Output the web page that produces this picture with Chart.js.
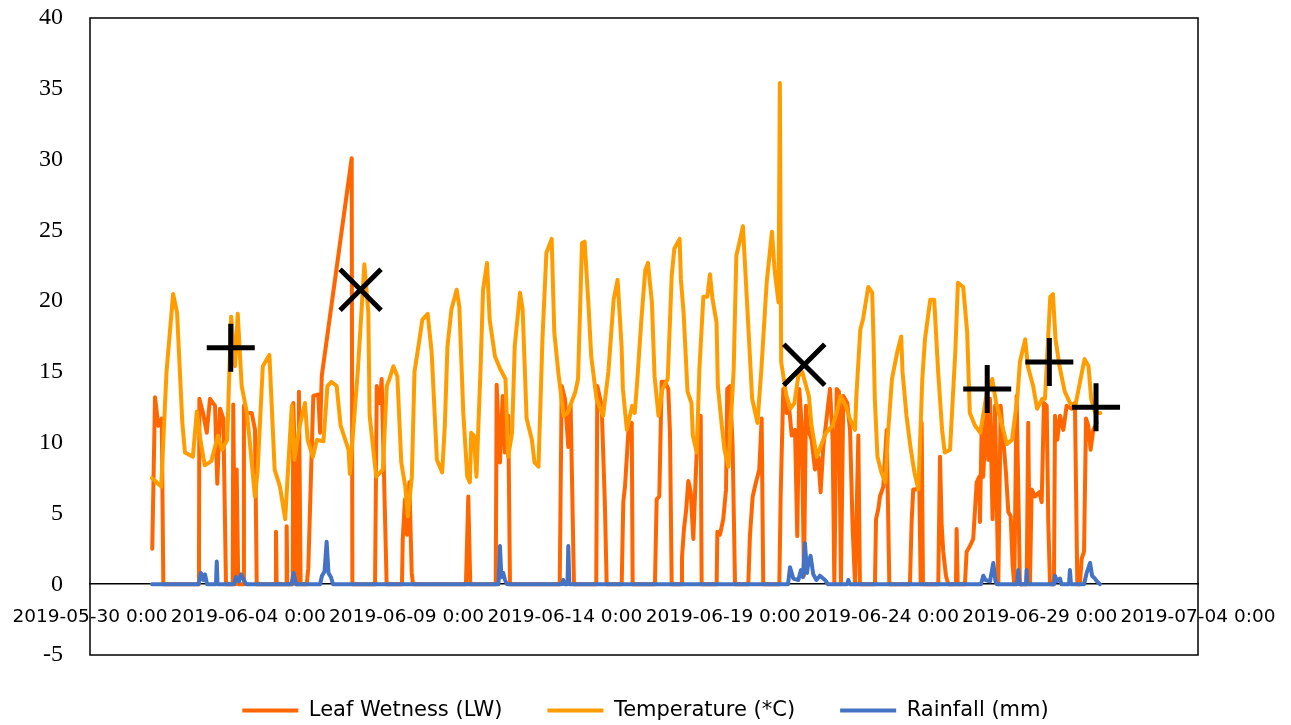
<!DOCTYPE html>
<html>
<head>
<meta charset="utf-8">
<script src="https://cdn.jsdelivr.net/npm/chart.js@4.4.1/dist/chart.umd.min.js"></script>
<style>
  html, body { margin: 0; padding: 0; background: #fff; }
  #wrap { width: 1291px; height: 725px; }
</style>
</head>
<body>
<div id="wrap"><canvas id="sensorChart" width="1291" height="725"></canvas></div>
<script>
// x values are hours since 2019-05-30 0:00
const xTickLabels = ['2019-05-30 0:00', '2019-06-04 0:00', '2019-06-09 0:00', '2019-06-14 0:00',
  '2019-06-19 0:00', '2019-06-24 0:00', '2019-06-29 0:00', '2019-07-04 0:00'];

const tempHours = [47, 54, 58, 63, 66, 70, 72, 78, 81, 84, 87, 92, 97, 100, 104, 107, 110, 112, 115, 119,
  121, 125, 127, 131, 136, 140, 144, 148, 150, 153, 155, 159, 163, 165, 169, 172, 177, 180, 183, 187,
  190, 196, 197, 203, 208, 211, 212, 217, 222, 225, 227, 230, 233, 236, 239, 241, 244, 246, 249, 252,
  256, 259, 262, 263, 267, 269, 271, 274, 278, 280, 283, 286, 288, 289, 291, 293, 296, 298, 301, 303,
  307, 311, 315, 317, 320, 322, 326, 328, 331, 335, 337, 340, 343, 346, 350, 352, 355, 359, 362, 368,
  370, 373, 375, 378, 380, 384, 389, 393, 397, 400, 403, 404, 407, 411, 413, 415, 418, 421, 423, 426,
  428, 431, 434, 438, 441, 443, 447, 448, 450, 453, 456, 457, 460, 462, 465, 468, 470, 472, 475, 476,
  479, 481, 484, 488, 490, 493, 495, 498, 502, 506, 509, 513, 517, 519, 522, 523, 524, 528, 531, 534,
  537, 540, 542, 545, 547, 551, 555, 558, 563, 566, 569, 573, 576, 580, 581, 584, 586, 590, 593, 594,
  595, 597, 600, 603, 605, 608, 612, 615, 616, 619, 622, 625, 628, 631, 633, 637, 640, 643, 646, 648,
  652, 656, 658, 662, 665, 667, 671, 675, 680, 684, 687, 691, 695, 699, 703, 705, 709, 711, 715, 718,
  722, 724, 728, 730, 732, 735, 739, 743, 747, 751, 754, 757, 759, 762, 766];
const tempValues = [7.5, 6.9, 15.0, 20.5, 19.2, 11.4, 9.3, 9.0, 12.2, 10.0, 8.4, 8.7, 10.5, 9.5, 10.2, 18.9, 15.4, 19.1, 14.0, 12.1,
  10.2, 6.2, 7.9, 15.4, 16.2, 8.1, 6.9, 4.6, 7.9, 12.6, 8.8, 11.2, 12.8, 10.2, 9.0, 10.2, 10.1, 14.0, 14.3, 14.0,
  11.2, 9.5, 7.8, 15.0, 22.6, 19.2, 11.9, 7.6, 8.1, 14.0, 14.5, 15.4, 14.7, 8.6, 6.9, 4.8, 7.6, 15.0, 16.8, 18.7,
  19.1, 16.4, 10.7, 8.8, 7.9, 11.2, 16.8, 19.4, 20.8, 19.6, 12.1, 7.6, 7.2, 10.7, 10.5, 7.6, 15.0, 20.8, 22.7, 18.7,
  16.1, 15.2, 14.5, 9.0, 10.7, 16.8, 20.6, 19.4, 11.7, 10.2, 8.6, 8.3, 17.3, 23.4, 24.4, 17.8, 15.0, 11.9, 12.1, 13.6,
  14.5, 24.1, 24.2, 19.6, 16.1, 13.1, 11.9, 15.0, 20.1, 21.5, 16.8, 13.8, 10.9, 12.6, 12.1, 14.5, 18.7, 22.2, 22.7, 19.9,
  14.7, 11.9, 13.8, 14.5, 21.8, 23.7, 24.4, 21.5, 19.2, 13.6, 12.8, 10.5, 9.3, 15.2, 20.3, 20.3, 21.9, 20.1, 18.5, 14.0,
  11.2, 9.5, 8.3, 15.2, 23.2, 24.4, 25.3, 20.1, 13.1, 11.4, 15.2, 21.3, 24.9, 22.2, 19.9, 35.4, 15.7, 13.3, 12.4, 12.8,
  14.7, 15.0, 14.3, 13.3, 11.2, 9.0, 10.0, 10.7, 11.2, 12.1, 13.3, 12.6, 11.7, 10.9, 13.3, 18.0, 18.7, 21.0, 20.6, 17.3,
  13.1, 9.0, 7.9, 7.2, 10.7, 14.5, 16.4, 17.5, 15.0, 11.9, 9.7, 7.9, 6.7, 14.5, 17.3, 20.1, 20.1, 15.0, 10.9, 9.3,
  9.5, 16.4, 21.3, 21.0, 17.8, 12.1, 11.2, 10.7, 13.6, 14.5, 12.8, 11.4, 9.9, 10.2, 13.1, 15.7, 17.3, 15.4, 14.0, 12.4,
  13.1, 13.1, 20.3, 20.5, 17.3, 15.4, 13.6, 12.8, 12.6, 14.5, 15.9, 15.4, 13.1, 12.1, 12.1];

const lwHours = [47.2, 49.3, 51.8, 54.4, 55.6, 82.6, 82.9, 85.7, 88.5, 91.0, 94.8, 96.5, 98.6, 101.1, 103.1,
  108.2, 108.6, 109.9, 111.2, 112.4, 116.2, 116.7, 118.8, 122.6, 125.1, 126.4, 140.5, 141.0, 141.5, 148.6,
  149.1, 149.6, 153.7, 154.1, 155.4, 156.7, 157.9, 158.4, 159.7, 164.3, 165.5, 168.1, 169.3, 173.1, 174.4,
  175.7, 198.4, 198.9, 216.1, 217.4, 219.8, 221.1, 222.1, 224.9, 236.5, 237.1, 238.8, 240.3, 242.1, 243.9,
  244.9, 285.0, 286.8, 288.3, 307.6, 308.3, 310.8, 312.9, 314.6, 317.1, 318.4, 356.1, 357.6, 360.1, 362.6,
  364.4, 366.9, 383.8, 384.6, 387.9, 390.4, 391.7, 403.1, 404.3, 405.6, 408.1, 409.4, 410.7, 411.4, 428.3,
  429.6, 431.6, 433.4, 435.9, 438.4, 439.7, 441.0, 448.6, 448.8, 450.3, 451.8, 453.6, 455.4, 457.4, 459.4,
  461.2, 463.0, 463.7, 475.1, 475.6, 477.6, 480.1, 482.2, 483.1, 485.2, 487.2, 489.0, 499.1, 500.3, 502.4,
  504.9, 507.4, 509.2, 510.4, 522.6, 523.6, 525.6, 528.2, 530.1, 532.0, 534.5, 536.2, 537.7, 539.5, 541.3,
  542.8, 544.5, 547.1, 549.6, 552.1, 553.9, 555.9, 558.9, 561.0, 563.0, 564.3, 566.1, 567.8, 569.3, 571.1,
  574.1, 576.2, 578.2, 580.0, 582.5, 583.7, 595.1, 595.9, 597.6, 598.9, 601.4, 604.0, 606.0, 621.6, 622.9,
  624.1, 626.2, 628.7, 629.8, 630.5, 631.5, 643.1, 644.4, 645.7, 646.9, 648.9, 650.7, 656.5, 657.0, 657.8,
  663.3, 664.6, 667.1, 669.6, 672.2, 674.2, 674.7, 676.0, 677.2, 679.8, 681.0, 682.3, 684.3, 686.1, 688.6,
  690.4, 692.4, 694.4, 696.2, 698.0, 699.5, 700.7, 702.5, 705.0, 710.1, 711.3, 712.6, 713.9, 716.4, 719.7,
  721.5, 723.2, 725.3, 726.5, 727.8, 730.8, 731.6, 733.3, 735.4, 737.9, 740.4, 744.2, 746.7, 748.5, 750.5,
  751.8, 753.6, 755.1, 756.8, 758.6, 760.6, 763.2];
const lwValues = [2.5, 13.2, 11.2, 11.7, 0, 0, 13.1, 12.1, 10.7, 13.1, 12.6, 7.1, 12.4, 11.7, 0,
  0, 12.7, 0, 8.1, 0, 0, 12.6, 12.1, 12.1, 10.9, 0, 0, 3.7, 0, 0,
  4.1, 0, 0, 12.8, 8.8, 0, 0, 13.6, 0, 0, 1.1, 9.5, 13.3, 13.4, 10.7,
  14.7, 30.1, 0, 0, 14.0, 12.8, 14.5, 10.7, 0, 0, 3.2, 6.0, 3.5, 7.2, 0.8,
  0, 0, 6.2, 0, 0, 14.1, 8.6, 13.3, 9.3, 11.9, 0, 0, 14.0, 13.1, 9.7,
  12.6, 0, 0, 14.0, 12.6, 5.5, 0, 0, 5.8, 6.9, 10.7, 11.2, 11.4, 0, 0,
  6.0, 6.2, 14.3, 14.3, 13.8, 10.7, 0, 0, 1.9, 3.9, 5.1, 7.3, 6.5, 3.2, 8.1,
  11.7, 11.9, 0, 0, 3.7, 3.5, 4.6, 6.7, 13.8, 14.0, 9.7, 0, 0, 3.4, 6.2,
  7.2, 8.1, 11.7, 0, 0, 6.2, 13.8, 12.1, 12.4, 10.5, 10.9, 3.4, 13.8, 11.4, 0.6,
  12.6, 10.9, 10.2, 8.1, 9.0, 6.5, 9.7, 12.1, 13.8, 10.2, 0, 13.8, 13.6, 0, 13.3,
  12.8, 10.9, 3.9, 0, 10.5, 0, 0, 4.6, 5.3, 6.2, 6.9, 10.9, 0, 0, 4.4,
  6.7, 6.7, 6.9, 0, 11.4, 0, 0, 9.0, 4.1, 2.3, 0.6, 0, 0, 3.9, 0,
  0, 2.3, 2.7, 3.2, 7.2, 7.6, 4.4, 11.2, 7.6, 13.1, 8.8, 13.1, 4.6, 12.6, 0,
  12.6, 10.2, 7.9, 5.1, 4.8, 1.3, 0, 13.3, 0, 0, 11.4, 0, 6.7, 6.2, 6.5,
  5.8, 12.8, 12.6, 4.4, 0, 0, 11.9, 10.2, 11.9, 10.9, 12.6, 12.4, 12.8, 0, 0,
  1.8, 2.3, 11.7, 11.2, 9.5, 10.9, 11.4];

const rainHours = [47, 82.3, 84.1, 86.0, 87.2, 88.7, 95.5, 96.1, 96.7, 109.2, 110.7, 113.0, 114.5, 116.7, 118.3,
  152.8, 154.3, 156.2, 174.4, 175.9, 177.8, 179.4, 180.8, 182.7, 184.2, 309.7, 310.8, 311.9, 313.3, 314.6,
  316.1, 357.8, 358.8, 359.7, 362.0, 362.6, 363.4, 529.2, 530.7, 533.2, 537.0, 539.0, 540.5, 542.0, 543.6,
  544.5, 546.3, 548.3, 550.7, 553.4, 557.2, 559.5, 573.9, 574.9, 576.2, 675.5, 677.2, 678.9, 682.3, 684.8,
  686.5, 687.6, 702.8, 703.7, 704.8, 709.6, 710.1, 710.7, 730.8, 731.6, 733.1, 735.4, 736.5, 742.2, 742.9,
  743.7, 753.6, 755.6, 758.2, 759.7, 761.9, 763.4, 765.7];
const rainValues = [0, 0, 0.8, 0.3, 0.7, 0, 0, 1.6, 0, 0, 0.5, 0.2, 0.7, 0.3, 0,
  0, 0.8, 0, 0, 0.6, 0.9, 3.0, 0.8, 0.5, 0, 0, 2.7, 0.5, 0.8, 0.3,
  0, 0, 0.3, 0, 0, 2.7, 0, 0, 1.2, 0.4, 0.3, 1.0, 0.5, 2.9, 0.8,
  1.5, 2.0, 0.7, 0.3, 0.6, 0.3, 0, 0, 0.3, 0, 0, 0.6, 0.3, 0.2, 1.5,
  0.2, 0, 0, 1.0, 0, 0, 1.0, 0, 0, 0.6, 0.2, 0.4, 0, 0, 1.0,
  0, 0, 0.8, 1.5, 0.6, 0.4, 0.2, 0];

// black annotation marks
const markHours = [106.7, 205.1, 541.5, 680.2, 727.3, 762.7];
const markValues = [16.7, 20.8, 15.5, 13.8, 15.7, 12.5];
const markStyles = ['cross', 'crossRot', 'crossRot', 'cross', 'cross', 'cross'];

const toPoints = (xs, ys) => xs.map((x, i) => ({ x: x, y: ys[i] }));

const lineStyle = {
  borderWidth: 4,
  pointRadius: 0,
  tension: 0,
  fill: false,
  borderJoinStyle: 'round',
  borderCapStyle: 'round'
};

// outline round the plot area
const plotFrame = {
  id: 'plotFrame',
  beforeDatasetsDraw(chart) {
    const { ctx, chartArea: a } = chart;
    ctx.save();
    ctx.strokeStyle = '#000';
    ctx.lineWidth = 1.5;
    ctx.strokeRect(a.left, a.top, a.right - a.left, a.bottom - a.top);
    ctx.restore();
  }
};

// keep tick-label overhang from moving the plot edges
const noPadding = (scale) => {
  scale.paddingLeft = 0;
  scale.paddingRight = 0;
  scale.paddingTop = 0;
  scale.paddingBottom = 0;
};

const ctx = document.getElementById('sensorChart').getContext('2d');
new Chart(ctx, {
  type: 'line',
  data: {
    datasets: [
      Object.assign({ label: 'Leaf Wetness (LW)', data: toPoints(lwHours, lwValues),
        borderColor: '#FF6600', backgroundColor: '#FF6600', order: 3 }, lineStyle),
      Object.assign({ label: 'Temperature (*C)', data: toPoints(tempHours, tempValues),
        borderColor: '#FF9C00', backgroundColor: '#FF9C00', order: 2 }, lineStyle),
      Object.assign({ label: 'Rainfall (mm)', data: toPoints(rainHours, rainValues),
        borderColor: '#4472C4', backgroundColor: '#4472C4', order: 1 }, lineStyle),
      {
        label: 'marks',
        data: toPoints(markHours, markValues),
        showLine: false,
        pointStyle: markStyles,
        pointRadius: markStyles.map(s => s === 'cross' ? 24 : 29),
        pointBorderWidth: 5,
        pointBorderColor: '#000',
        pointBackgroundColor: '#000',
        order: 0
      }
    ]
  },
  options: {
    responsive: false,
    animation: false,
    events: [],
    layout: { autoPadding: false, padding: { top: 18, left: 0, right: 0, bottom: 0 } },
    scales: {
      x: {
        type: 'linear',
        position: { y: 0 },
        min: 0,
        max: 840,
        grid: { display: false, drawTicks: false },
        border: { display: true, color: '#000', width: 1.5 },
        ticks: {
          stepSize: 120,
          autoSkip: false,
          maxRotation: 0,
          minRotation: 0,
          padding: 22,
          color: '#000',
          font: { family: 'DejaVu Sans', size: 18.5 },
          callback: (value) => xTickLabels[Math.round(value / 120)]
        },
        afterFit: noPadding
      },
      y: {
        position: 'left',
        min: -5,
        max: 40,
        grid: { display: false, drawTicks: false },
        border: { display: false },
        ticks: {
          stepSize: 5,
          padding: 27,
          color: '#000',
          font: { family: 'Liberation Serif', size: 24 }
        },
        afterFit: (scale) => { noPadding(scale); scale.width = 90; }
      },
      yRight: {
        position: 'right',
        min: -5,
        max: 40,
        grid: { display: false },
        border: { display: false },
        ticks: { display: false },
        afterFit: (scale) => { noPadding(scale); scale.width = 93; }
      }
    },
    plugins: {
      tooltip: { enabled: false },
      legend: {
        position: 'bottom',
        maxHeight: 70,
        labels: {
          boxWidth: 56,
          boxHeight: 4,
          padding: 45,
          color: '#000',
          font: { family: 'DejaVu Sans', size: 21 },
          filter: (item) => item.datasetIndex < 3,
          sort: (a, b) => a.datasetIndex - b.datasetIndex,
          generateLabels(chart) {
            const items = Chart.defaults.plugins.legend.labels.generateLabels(chart);
            items.forEach(it => {
              it.lineWidth = 0;
              it.fillStyle = chart.data.datasets[it.datasetIndex].borderColor;
            });
            return items;
          }
        }
      }
    }
  },
  plugins: [plotFrame]
});
</script>
</body>
</html>
